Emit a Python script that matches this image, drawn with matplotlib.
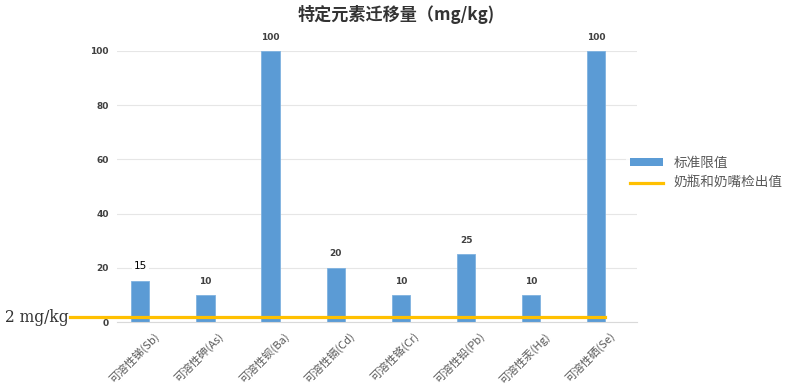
import numpy as np
import matplotlib
matplotlib.use('Agg')
import matplotlib.pyplot as pl
from matplotlib.patches import Patch
from matplotlib.lines import Line2D
import matplotlib.transforms as mtransforms

pl.rcParams['font.family'] = ['Noto Sans CJK SC', 'DejaVu Sans']

# data
categories = ['可溶性锑(Sb)', '可溶性砷(As)', '可溶性钡(Ba)', '可溶性镉(Cd)',
              '可溶性铬(Cr)', '可溶性铅(Pb)', '可溶性汞(Hg)', '可溶性硒(Se)']
limit_values = [15, 10, 100, 20, 10, 25, 10, 100]
detected_value = 2
y_ticks = [0, 20, 40, 60, 80, 100]

bar_color = '#5B9BD5'
line_color = '#FFC000'
text_color = '#595959'

fig = pl.figure(figsize=(7.92, 3.89), dpi=100)
ax = fig.add_axes([0.148, 0.172, 0.656, 0.697])

x = np.arange(len(categories))
ax.bar(x, limit_values, width=0.28, color=bar_color, edgecolor='#7FB2E0',
       linewidth=0.6, zorder=2)

ax.set_xlim(-0.353, 7.62)
ax.set_ylim(0, 100)
ax.set_yticks(y_ticks)
ax.set_yticklabels([str(t) for t in y_ticks], fontsize=6.5, fontweight='bold',
                   color='#404040', family='DejaVu Sans')
ax.grid(axis='y', color='#E6E6E6', linewidth=0.8, zorder=0)
ax.set_axisbelow(True)
for s in ['top', 'right', 'left']:
    ax.spines[s].set_visible(False)
ax.spines['bottom'].set_color('#D9D9D9')
ax.tick_params(axis='both', length=0, pad=6)

ax.set_xticks(x)
ax.set_xticklabels(categories, rotation=45, ha='center', fontsize=8,
                   color=text_color)
offset = mtransforms.ScaledTranslation(-6 / 100, 0, fig.dpi_scale_trans)
for lbl in ax.get_xticklabels():
    lbl.set_transform(lbl.get_transform() + offset)

# value labels
for xi, v in zip(x, limit_values):
    if xi == 0:
        ax.annotate(str(v), (xi, v), xytext=(0, 11), textcoords='offset points',
                    ha='center', va='center', fontsize=7.5, color='black',
                    family='DejaVu Sans',
                    bbox=dict(facecolor='white', edgecolor='none', pad=1.5))
    else:
        ax.annotate(str(v), (xi, v), xytext=(0, 10), textcoords='offset points',
                    ha='center', va='center', fontsize=6.5, fontweight='bold',
                    color='#404040', family='DejaVu Sans')

# detected value line (extends to the left label)
ax.plot([-1.085, 7.14], [detected_value, detected_value], color=line_color,
        linewidth=2.3, clip_on=False, zorder=3)
fig.text(5 / 792, 1 - 318 / 389, '2 mg/kg', fontsize=11.2, family='DejaVu Serif',
         va='center', ha='left', color='#333333')

fig.text(0.5, 1 - 15 / 389, '特定元素迁移量（mg/kg)', fontsize=12.3,
         fontweight='bold', ha='center', va='center', color='#333333')

handles = [Patch(facecolor=bar_color, edgecolor='none'),
           Line2D([0], [0], color=line_color, linewidth=2.3)]
leg = fig.legend(handles, ['标准限值', '奶瓶和奶嘴检出值'], loc='center left',
                 bbox_to_anchor=(619 / 792, 1 - 173 / 389), frameon=True,
                 fontsize=9.8, handlelength=2.4, handleheight=0.6,
                 labelspacing=0.45, handletextpad=0.8, borderpad=0.3)
leg.get_frame().set_edgecolor('none')
leg.get_frame().set_facecolor('white')
for t in leg.get_texts():
    t.set_color(text_color)

fig.savefig('out.png', dpi=100)
